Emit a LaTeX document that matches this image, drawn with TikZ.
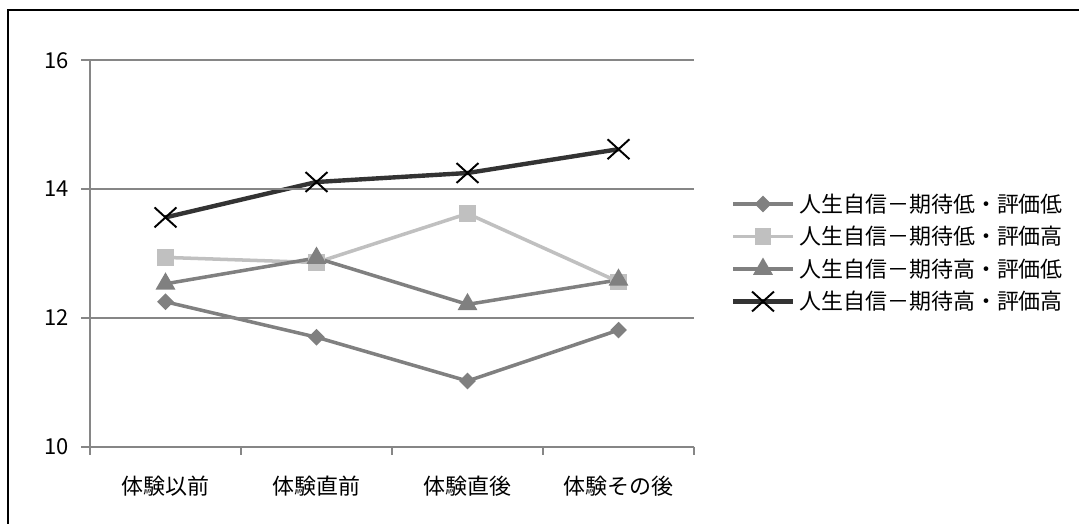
\documentclass[tikz,border=0pt]{standalone}
\usepackage{fontspec}
\setmainfont{Noto Sans CJK JP}
\usetikzlibrary{shapes.geometric,shapes.misc}
\definecolor{gridgray}{RGB}{134,134,134}
\definecolor{midgray}{RGB}{128,128,128}
\definecolor{palegray}{RGB}{192,192,192}
\definecolor{darkline}{RGB}{51,51,51}
\pgfdeclarelayer{bg}
\pgfsetlayers{bg,main}
\tikzset{
  gridline/.style={draw=gridgray, line width=1.1pt},
  lbl/.style={inner sep=0pt, font=\fontsize{12.5}{14}\selectfont},
  serlow/.style={draw=midgray, line width=2pt},
  serpale/.style={draw=palegray, line width=2pt},
  serdark/.style={draw=darkline, line width=2.5pt},
  dmark/.style={diamond, fill=midgray, inner sep=0pt, minimum size=0.34cm},
  smark/.style={rectangle, fill=palegray, inner sep=0pt, minimum size=0.33cm},
  tmark/.style={regular polygon, regular polygon sides=3, fill=midgray, inner sep=0pt, minimum size=0.46cm},
  xmark/.style={cross out, draw=black, line width=1.1pt, inner sep=0pt, minimum width=0.4cm, minimum height=0.36cm}
}
\begin{document}
\begin{tikzpicture}[x=0.02cm, y=-0.02cm]
        \useasboundingbox (0,0) rectangle (1079,524);
        \draw[line width=0.8pt] (8,524) -- (8,10) -- (1079,10);
        % grid and axes
        \foreach \yy in {60.3, 189.1, 317.9} {
          \draw[gridline] (81,\yy) -- (694,\yy);
        }
        \draw[gridline] (90,60.3) -- (90,446.7);
        \draw[gridline] (81,446.7) -- (694,446.7);
        \foreach \xx in {90, 241, 392, 543, 694} {
          \draw[gridline] (\xx,446.7) -- (\xx,455);
        }
        \node[lbl, anchor=east] (y16) at (69,60.3) {16};
        \node[lbl, anchor=east] (y14) at (69,189.1) {14};
        \node[lbl, anchor=east] (y12) at (69,317.9) {12};
        \node[lbl, anchor=east] (y10) at (69,446.7) {10};
        \node[lbl] (c1) at (165.5,486) {体験以前};
        \node[lbl] (c2) at (316.5,486) {体験直前};
        \node[lbl] (c3) at (467.5,486) {体験直後};
        \node[lbl] (c4) at (618.5,486) {体験その後};
        % series
        \node[dmark] (d1) at (165.5,301.8) {};
        \node[dmark] (d2) at (316.5,337.2) {};
        \node[dmark] (d3) at (467.5,381.0) {};
        \node[dmark] (d4) at (618.5,330.1) {};
        \node[smark] (s1) at (165.5,257.4) {};
        \node[smark] (s2) at (316.5,262.5) {};
        \node[smark] (s3) at (467.5,213.6) {};
        \node[smark] (s4) at (618.5,281.8) {};
        \node[tmark] (t1) at (165.5,283.8) {};
        \node[tmark] (t2) at (316.5,258.0) {};
        \node[tmark] (t3) at (467.5,304.4) {};
        \node[tmark] (t4) at (618.5,279.9) {};
        \node[xmark] (x1) at (165.5,217.4) {};
        \node[xmark] (x2) at (316.5,182.0) {};
        \node[xmark] (x3) at (467.5,173.0) {};
        \node[xmark] (x4) at (618.5,149.2) {};
        \begin{pgfonlayer}{bg}
        \draw[serlow] (d1.center) -- (d2.center) -- (d3.center) -- (d4.center);
        \draw[serpale] (s1.center) -- (s2.center) -- (s3.center) -- (s4.center);
        \draw[serlow] (t1.center) -- (t2.center) -- (t3.center) -- (t4.center);
        \draw[serdark] (x1.center) -- (x2.center) -- (x3.center) -- (x4.center);
        \end{pgfonlayer}
        % legend
        \coordinate (la1) at (733,204);
        \coordinate (lb1) at (793,204);
        \coordinate (la2) at (733,236.5);
        \coordinate (lb2) at (793,236.5);
        \coordinate (la3) at (733,269);
        \coordinate (lb3) at (793,269);
        \coordinate (la4) at (733,301.5);
        \coordinate (lb4) at (793,301.5);
        \draw[serlow] (la1) -- (lb1);
        \draw[serpale] (la2) -- (lb2);
        \draw[serlow] (la3) -- (lb3);
        \draw[serdark] (la4) -- (lb4);
        \node[dmark] (lm1) at (763,204) {};
        \node[smark] (lm2) at (763,236.5) {};
        \node[tmark] (lm3) at (763,269) {};
        \node[xmark] (lm4) at (763,301.5) {};
        \node[lbl, anchor=west] (lt1) at (799,204) {人生自信－期待低・評価低};
        \node[lbl, anchor=west] (lt2) at (799,236.5) {人生自信－期待低・評価高};
        \node[lbl, anchor=west] (lt3) at (799,269) {人生自信－期待高・評価低};
        \node[lbl, anchor=west] (lt4) at (799,301.5) {人生自信－期待高・評価高};
\end{tikzpicture}
\end{document}
